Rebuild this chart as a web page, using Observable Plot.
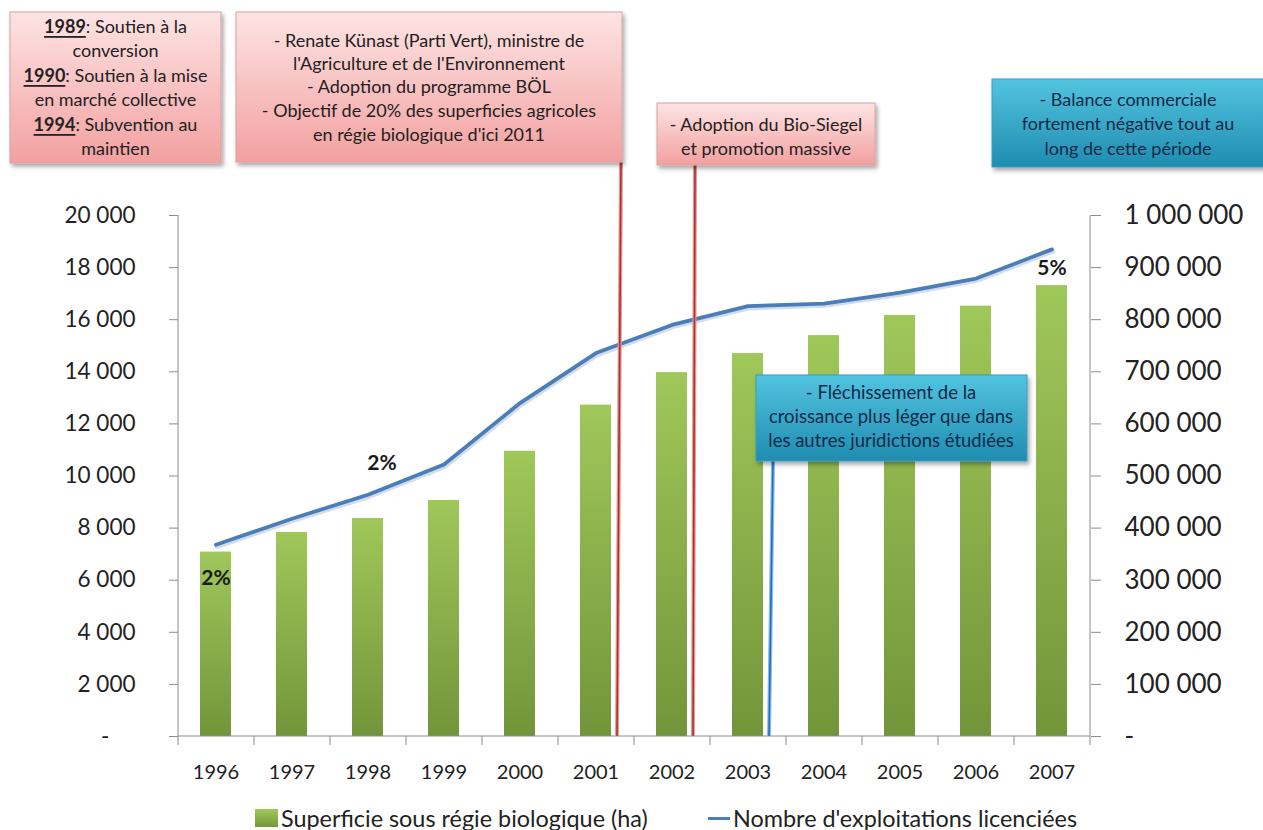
<!DOCTYPE html>
<html><head><meta charset="utf-8">
<script src="https://cdn.jsdelivr.net/npm/d3@7"></script>
<script src="https://cdn.jsdelivr.net/npm/@observablehq/plot@0.6"></script>
<style>
html,body{margin:0;padding:0;background:#fff;}
body{position:relative;width:1263px;height:830px;overflow:hidden;font-family:Lato,sans-serif;}
#legend{position:absolute;left:0;top:800px;width:1263px;height:30px;color:#222;font-size:23.4px;}
#legend .item{position:absolute;top:0;height:30px;display:flex;align-items:center;white-space:nowrap;}
#legend .sw{display:inline-block;width:23px;height:18px;margin-right:3px;background:linear-gradient(#a0c75a,#76983a);}
#legend .ln{display:inline-block;width:22px;height:3px;margin-right:3px;background:#4a7ebb;}
</style></head><body>
<div id="chart"></div>
<div id="legend">
  <div class="item" style="left:255px;top:3px"><span class="sw"></span>Superficie sous régie biologique (ha)</div>
  <div class="item" style="left:708px;top:3px"><span class="ln"></span>Nombre d'exploitations licenciées</div>
</div>
<script>
// ---- data ----
const years = ["1996","1997","1998","1999","2000","2001","2002","2003","2004","2005","2006","2007"];
const superficie = [7080, 7830, 8370, 9060, 10950, 12720, 13970, 14700, 15390, 16160, 16520, 17310];
const exploitations = [368000, 418000, 464000, 522000, 640000, 736000, 790000, 826000, 831000, 852000, 879000, 935000];
const leftTicks = [0, 2000, 4000, 6000, 8000, 10000, 12000, 14000, 16000, 18000, 20000];
const rightTicks = [0, 100000, 200000, 300000, 400000, 500000, 600000, 700000, 800000, 900000, 1000000];
const pctYears = ["1996", "1998", "2007"];
const pctText = ["2%", "2%", "5%"];
const ratio = 50; // right axis / left axis

const data = years.map((y, i) => ({year: y, sup: superficie[i], exp: exploitations[i]}));
const fmt = v => v === 0 ? "-" : d3.format(",")(v).replace(/,/g, "\u00a0");
const fmtL = v => v === 0 ? "-\u2007\u2007" : fmt(v);

const W = 1263, H = 800;
const X0 = 178, X1 = 1090, Y0 = 215, Y1 = 736;

const plot = Plot.plot({
  width: W, height: H,
  marginLeft: X0, marginRight: W - X1, marginTop: Y0, marginBottom: H - Y1,
  style: {fontFamily: "Lato, sans-serif", background: "white", color: "#222", overflow: "visible"},
  x: {domain: years, paddingInner: 0.59, paddingOuter: 0.295, axis: null, label: null},
  y: {domain: [0, 20000], axis: null, label: null},
  marks: [
    Plot.barY(data, {x: "year", y: "sup", fill: "url(#barGrad)"}),
    Plot.line(data, {x: "year", y: d => d.exp / ratio, stroke: "#b8c4d6", strokeWidth: 4.5, dx: 1, dy: 2, strokeOpacity: 0.6}),
    Plot.line(data, {x: "year", y: d => d.exp / ratio, stroke: "#4a7ebb", strokeWidth: 3.8}),
    Plot.axisY({ticks: leftTicks, anchor: "left", label: null, tickFormat: fmtL, tickSize: 9, tickPadding: 34, fontSize: 22.5, stroke: "#8c8c8c", fill: "#222"}),
    Plot.axisY({ticks: rightTicks.map(v => v / ratio), anchor: "right", label: null, tickFormat: d => fmt(d * ratio), tickSize: 10, tickPadding: 24, fontSize: 26, stroke: "#8c8c8c", fill: "#222"}),
    Plot.axisX({tickSize: 0, tickPadding: 28, fontSize: 20, label: null, fill: "#222"}),
    Plot.text([pctYears[0]], {x: d => d, y: d => superficie[years.indexOf(d)], text: () => pctText[0], dy: 26, fontWeight: "bold", fontSize: 21, fill: "#1a1a1a"}),
    Plot.text([pctYears[1]], {x: d => d, y: d => exploitations[years.indexOf(d)] / ratio, text: () => pctText[1], dx: 14, dy: -31, fontWeight: "bold", fontSize: 21, fill: "#1a1a1a"}),
    Plot.text([pctYears[2]], {x: d => d, y: d => superficie[years.indexOf(d)], text: () => pctText[2], dy: -17, fontWeight: "bold", fontSize: 21, fill: "#1a1a1a"})
  ]
});
document.getElementById("chart").appendChild(plot);

// ---- decorations ----
const svg = d3.select(plot);
const defs = svg.insert("defs", ":first-child");
const g1 = defs.append("linearGradient").attr("id", "barGrad").attr("x1", 0).attr("y1", 0).attr("x2", 0).attr("y2", 1);
g1.append("stop").attr("offset", "0%").attr("stop-color", "#a0c75a");
g1.append("stop").attr("offset", "100%").attr("stop-color", "#73953a");
const gp = defs.append("linearGradient").attr("id", "pinkGrad").attr("x1", 0).attr("y1", 0).attr("x2", 0).attr("y2", 1);
gp.append("stop").attr("offset", "0%").attr("stop-color", "#fde4e4");
gp.append("stop").attr("offset", "100%").attr("stop-color", "#f3a0a0");
const gb = defs.append("linearGradient").attr("id", "blueGrad").attr("x1", 0).attr("y1", 0).attr("x2", 0).attr("y2", 1);
gb.append("stop").attr("offset", "0%").attr("stop-color", "#52c4e0");
gb.append("stop").attr("offset", "100%").attr("stop-color", "#1f8cb0");
const f = defs.append("filter").attr("id", "shadow").attr("x", "-10%").attr("y", "-10%").attr("width", "130%").attr("height", "140%");
f.append("feDropShadow").attr("dx", 2).attr("dy", 3).attr("stdDeviation", 2).attr("flood-color", "#000").attr("flood-opacity", 0.35);

const deco = svg.append("g");
// axis lines
deco.append("line").attr("x1", X0).attr("x2", X0).attr("y1", Y0).attr("y2", Y1).attr("stroke", "#8c8c8c");
deco.append("line").attr("x1", X1).attr("x2", X1).attr("y1", Y0).attr("y2", Y1).attr("stroke", "#8c8c8c");
deco.append("line").attr("x1", X0).attr("x2", X1).attr("y1", Y1).attr("y2", Y1).attr("stroke", "#8c8c8c");
const step = (X1 - X0) / years.length;
for (let i = 0; i <= years.length; i++) {
  const xx = X0 + i * step;
  deco.append("line").attr("x1", xx).attr("x2", xx).attr("y1", Y1).attr("y2", Y1 + 9).attr("stroke", "#8c8c8c");
}

// connectors
function connector(xTop, yTop, xBot, color, light) {
  deco.append("line").attr("x1", xTop).attr("x2", xBot).attr("y1", yTop).attr("y2", Y1)
    .attr("stroke", light).attr("stroke-width", 4);
  deco.append("line").attr("x1", xTop).attr("x2", xBot).attr("y1", yTop).attr("y2", Y1)
    .attr("stroke", color).attr("stroke-width", 1.6);
}
connector(621, 162, 617, "#b0302c", "#e59a98");
connector(695, 165, 693, "#b0302c", "#e59a98");
connector(773, 460, 769, "#1f6fc0", "#8dbbe6");

// boxes
function box(x, y, w, h, fill, stroke, lines, cx, ys, color, fs) {
  const g = deco.append("g");
  g.append("rect").attr("x", x).attr("y", y).attr("width", w).attr("height", h)
    .attr("fill", fill).attr("stroke", stroke).attr("stroke-width", 1).attr("filter", "url(#shadow)");
  const t = g.append("text").attr("text-anchor", "middle").attr("fill", color)
    .attr("font-family", "Lato, sans-serif").attr("font-size", fs);
  lines.forEach((ln, i) => {
    const tl = t.append("tspan").attr("x", cx).attr("y", ys[i]).attr("dominant-baseline", "central");
    if (Array.isArray(ln)) {
      tl.append("tspan").attr("font-weight", "bold").attr("text-decoration", "underline").text(ln[0]);
      tl.append("tspan").text(ln[1]);
    } else tl.text(ln);
  });
}
box(10, 12, 211, 151, "url(#pinkGrad)", "#d9a0a0",
  [["1989", ": Soutien à la"], "conversion", ["1990", ": Soutien à la mise"], "en marché collective", ["1994", ": Subvention au"], "maintien"],
  115.5, [26, 50, 75, 99, 124, 148], "#222", 18);
box(236, 12, 386, 150, "url(#pinkGrad)", "#d9a0a0",
  ["- Renate Künast (Parti Vert), ministre de", "l'Agriculture et de l'Environnement", "- Adoption du programme BÖL", "- Objectif de 20% des superficies agricoles", "en régie biologique d'ici 2011"],
  429, [40, 63, 86, 110, 134], "#222", 18);
box(657, 103, 218, 62, "url(#pinkGrad)", "#d9a0a0",
  ["- Adoption du Bio-Siegel", "et promotion massive"],
  766, [124, 148], "#222", 18);
box(992, 79, 275, 88, "url(#blueGrad)", "#3a9cc0",
  ["- Balance commerciale", "fortement négative tout au", "long de cette période"],
  1128, [99, 123, 148], "#102a48", 18);
box(756, 375, 271, 86, "url(#blueGrad)", "#3a9cc0",
  ["- Fléchissement de la", "croissance plus léger que dans", "les autres juridictions étudiées"],
  891, [392, 416, 440], "#102a48", 18.5);
</script>
</body></html>
